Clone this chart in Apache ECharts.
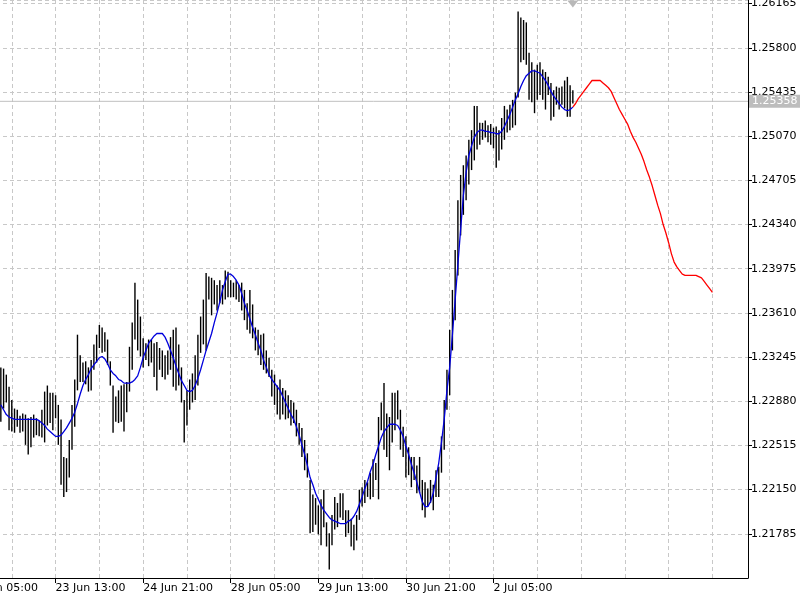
<!DOCTYPE html>
<html>
<head>
<meta charset="utf-8">
<script src="https://cdn.jsdelivr.net/npm/echarts@6/dist/echarts.min.js"></script>
<style>html,body{margin:0;padding:0;background:#fff}#c{width:800px;height:600px}</style>
</head>
<body>
<div id="c"></div>
<script>
// time-axis labels, one every 32 hourly slots (slot 0 = 22 Jun 05:00)
const tickLabels = ['22 Jun 05:00','23 Jun 13:00','24 Jun 21:00','28 Jun 05:00','29 Jun 13:00','30 Jun 21:00','2 Jul 05:00'];
const totalSlots = 286;
const barStart = 12;
const highs = [
1.2316,1.2315,1.2310,1.2300,1.2289,1.2282,1.2281,1.2276,1.2278,1.2277,
1.2274,1.2275,1.2277,1.2274,1.2272,1.2281,1.2296,1.2301,1.2295,1.2295,
1.2293,1.2285,1.2273,1.2242,1.2241,1.2256,1.2285,1.2306,1.2343,1.2326,
1.2320,1.2321,1.2316,1.2322,1.2335,1.2343,1.2351,1.2349,1.2345,1.2339,
1.2321,1.2301,1.2292,1.2297,1.2301,1.2302,1.2304,1.2333,1.2353,1.2386,
1.2372,1.2358,1.2340,1.2336,1.2339,1.2339,1.2336,1.2337,1.2332,1.2330,
1.2326,1.2330,1.2341,1.2347,1.2349,1.2335,1.2316,1.2289,1.2297,1.2306,
1.2311,1.2326,1.2343,1.2358,1.2372,1.2394,1.2391,1.2390,1.2388,1.2384,
1.2388,1.2384,1.2396,1.2395,1.2388,1.2386,1.2388,1.2384,1.2386,1.2380,
1.2369,1.2380,1.2368,1.2349,1.2347,1.2343,1.2344,1.2330,1.2324,1.2314,
1.2310,1.2301,1.2306,1.2299,1.2297,1.2293,1.2289,1.2287,1.2281,1.2270,
1.2266,1.2256,1.2245,1.2223,1.2211,1.2208,1.2202,1.2207,1.2215,1.2188,
1.2179,1.2194,1.2209,1.2204,1.2212,1.2212,1.2198,1.2198,1.2191,1.2186,
1.2194,1.2215,1.2217,1.2223,1.2221,1.2229,1.2240,1.2237,1.2275,1.2287,
1.2303,1.2278,1.2275,1.2295,1.2295,1.2297,1.2281,1.2267,1.2259,1.2250,
1.2242,1.2242,1.2235,1.2242,1.2223,1.2221,1.2216,1.2223,1.2219,1.2231,
1.2234,1.2259,1.2289,1.2314,1.2347,1.2380,1.2413,1.2454,1.2475,1.2483,
1.2491,1.2504,1.2512,1.2532,1.2532,1.2518,1.2518,1.2520,1.2516,1.2517,
1.2514,1.2515,1.2512,1.2522,1.2532,1.2529,1.2533,1.2537,1.2543,1.2610,
1.2605,1.2603,1.2601,1.2576,1.2568,1.2562,1.2566,1.2568,1.2562,1.2560,
1.2556,1.2551,1.2545,1.2548,1.2547,1.2548,1.2553,1.2556,1.2549,1.2545
];
const lows = [
1.2271,1.2282,1.2287,1.2264,1.2263,1.2262,1.2267,1.2262,1.2263,1.2252,
1.2244,1.2250,1.2258,1.2260,1.2259,1.2258,1.2254,1.2268,1.2270,1.2264,
1.2274,1.2252,1.2219,1.2209,1.2213,1.2225,1.2248,1.2267,1.2297,1.2304,
1.2304,1.2302,1.2296,1.2297,1.2314,1.2320,1.2332,1.2328,1.2329,1.2318,
1.2301,1.2262,1.2271,1.2270,1.2271,1.2263,1.2279,1.2296,1.2314,1.2339,
1.2330,1.2325,1.2316,1.2322,1.2317,1.2320,1.2308,1.2297,1.2314,1.2308,
1.2306,1.2310,1.2314,1.2300,1.2297,1.2301,1.2287,1.2254,1.2268,1.2281,
1.2287,1.2289,1.2301,1.2328,1.2335,1.2330,1.2372,1.2359,1.2368,1.2363,
1.2369,1.2368,1.2372,1.2374,1.2374,1.2374,1.2372,1.2370,1.2363,1.2355,
1.2347,1.2344,1.2340,1.2330,1.2326,1.2318,1.2314,1.2311,1.2308,1.2292,
1.2285,1.2277,1.2273,1.2277,1.2273,1.2274,1.2268,1.2270,1.2259,1.2252,
1.2242,1.2231,1.2225,1.2179,1.2180,1.2186,1.2178,1.2169,1.2184,1.2168,
1.2149,1.2169,1.2182,1.2184,1.2192,1.2190,1.2176,1.2179,1.2168,1.2165,
1.2173,1.2190,1.2201,1.2204,1.2209,1.2207,1.2209,1.2223,1.2207,1.2264,
1.2248,1.2242,1.2231,1.2254,1.2264,1.2273,1.2248,1.2242,1.2225,1.2227,
1.2217,1.2223,1.2212,1.2212,1.2198,1.2192,1.2201,1.2204,1.2198,1.2209,
1.2209,1.2229,1.2248,1.2281,1.2293,1.2330,1.2355,1.2392,1.2425,1.2442,
1.2454,1.2467,1.2479,1.2487,1.2496,1.2500,1.2504,1.2506,1.2502,1.2500,
1.2497,1.2481,1.2487,1.2496,1.2504,1.2510,1.2512,1.2514,1.2516,1.2539,
1.2568,1.2570,1.2566,1.2537,1.2535,1.2526,1.2537,1.2541,1.2537,1.2529,
1.2541,1.2520,1.2523,1.2533,1.2529,1.2533,1.2530,1.2523,1.2523,1.2534
];
const maLine = [
1.2285,1.2281,1.2277,1.2275,1.2274,1.2273,1.2273,1.2273,1.2273,1.2273,
1.2273,1.2273,1.2273,1.2273,1.2272,1.2270,1.2268,1.2265,1.2263,1.2261,
1.2259,1.2259,1.2260,1.2263,1.2266,1.2270,1.2274,1.2279,1.2286,1.2294,
1.2301,1.2306,1.2310,1.2315,1.2318,1.2321,1.2324,1.2325,1.2323,1.2319,
1.2314,1.2311,1.2309,1.2306,1.2305,1.2303,1.2303,1.2303,1.2304,1.2306,
1.2309,1.2316,1.2324,1.2330,1.2336,1.2339,1.2342,1.2344,1.2344,1.2344,
1.2341,1.2336,1.2330,1.2324,1.2317,1.2311,1.2305,1.2301,1.2297,1.2296,
1.2297,1.2301,1.2307,1.2314,1.2322,1.2330,1.2337,1.2344,1.2353,1.2361,
1.2370,1.2380,1.2387,1.2393,1.2393,1.2391,1.2388,1.2384,1.2377,1.2369,
1.2363,1.2356,1.2349,1.2343,1.2336,1.2330,1.2322,1.2316,1.2310,1.2306,
1.2303,1.2300,1.2297,1.2292,1.2287,1.2282,1.2277,1.2273,1.2267,1.2260,
1.2252,1.2244,1.2235,1.2225,1.2219,1.2212,1.2207,1.2202,1.2198,1.2195,
1.2192,1.2190,1.2189,1.2188,1.2187,1.2187,1.2187,1.2189,1.2190,1.2193,
1.2197,1.2203,1.2209,1.2216,1.2222,1.2230,1.2236,1.2244,1.2251,1.2258,
1.2263,1.2266,1.2269,1.2269,1.2269,1.2268,1.2264,1.2259,1.2251,1.2244,
1.2236,1.2229,1.2221,1.2213,1.2205,1.2201,1.2201,1.2205,1.2212,1.2225,
1.2237,1.2254,1.2273,1.2297,1.2316,1.2343,1.2372,1.2401,1.2430,1.2458,
1.2477,1.2491,1.2499,1.2506,1.2510,1.2512,1.2512,1.2511,1.2511,1.2510,
1.2510,1.2509,1.2509,1.2511,1.2515,1.2520,1.2525,1.2531,1.2537,1.2542,
1.2548,1.2553,1.2557,1.2559,1.2561,1.2561,1.2560,1.2559,1.2556,1.2553,
1.2549,1.2544,1.2540,1.2537,1.2534,1.2531,1.2529,1.2528,1.2529,1.2531
];
const forecast = [
1.2531,1.2534,1.2538,1.2541,1.2544,1.2547,1.2550,1.2553,1.2553,1.2553,
1.2553,1.2551,1.2549,1.2547,1.2544,1.2539,1.2534,1.2529,1.2525,1.2521,
1.2517,1.2511,1.2506,1.2502,1.2497,1.2492,1.2486,1.2479,1.2473,1.2466,
1.2458,1.2450,1.2443,1.2434,1.2427,1.2419,1.2410,1.2403,1.2399,1.2396,
1.2393,1.2392,1.2392,1.2392,1.2392,1.2392,1.2391,1.2390,1.2387,1.2384,
1.2381,1.2378
];
const lastPrice = 1.25358;
const yMin = 1.21420, yMax = 1.26195, yStep = 0.00365;

const slots = [];
for (let i = 0; i < totalSlots; i++) slots.push(String(i));
const barData = highs.map((h, k) => [barStart + k, h, lows[k]]);
const maData = maLine.map((v, k) => [barStart + k, v]);
const fcStart = barStart + highs.length - 1;
const fcData = forecast.map((v, k) => [fcStart + k, v]);
const priceLineData = [[0, lastPrice], [totalSlots - 1, lastPrice]];
const isLabelSlot = (idx) => idx % 32 === 0 && idx / 32 < tickLabels.length;

const chart = echarts.init(document.getElementById('c'), null, {renderer: 'canvas'});
const font = 'DejaVu Sans';
chart.setOption({
  animation: false,
  backgroundColor: '#ffffff',
  grid: {left: -32, right: 52, top: 0, bottom: 22, containLabel: false, outerBoundsMode: 'none'},
  xAxis: {
    type: 'category', data: slots, boundaryGap: false,
    axisLine: {show: true, lineStyle: {color: '#000', width: 1}},
    axisTick: {show: true, length: 5, interval: (idx) => isLabelSlot(idx), lineStyle: {color: '#000'}},
    axisLabel: {
      interval: (idx) => isLabelSlot(idx), align: 'left', margin: 5,
      color: '#000', fontFamily: font, fontSize: 11,
      formatter: (v, idx) => isLabelSlot(idx) ? tickLabels[idx / 32] : ''
    },
    splitLine: {show: true, interval: (idx) => idx % 16 === 0, lineStyle: {color: '#c8c8c8', type: [4, 3], width: 1}}
  },
  yAxis: {
    type: 'value', position: 'right', min: yMin, max: yMax, interval: yStep, scale: true,
    axisLine: {show: true, lineStyle: {color: '#000', width: 1}},
    axisTick: {show: true, length: 4, lineStyle: {color: '#000'}},
    axisLabel: {color: '#000', fontFamily: font, fontSize: 11, margin: 3, showMinLabel: false, showMaxLabel: false,
      formatter: (v) => v.toFixed(5)},
    splitLine: {show: true, lineStyle: {color: '#c8c8c8', type: [4, 3], width: 1}}
  },
  series: [
    {
      type: 'line', name: 'price', data: priceLineData, symbol: 'none', silent: true,
      lineStyle: {color: '#c0c0c0', width: 1}, z: 1,
      endLabel: {show: true, position: 'right', distance: 1, formatter: () => lastPrice.toFixed(5),
        backgroundColor: '#bdbdbd', color: '#fff', fontFamily: font, fontSize: 11, padding: [1, 3, 1, 3]}
    },
    {
      type: 'custom', name: 'bars', clip: true,
      data: barData,
      encode: {x: 0, y: [1, 2]},
      renderItem: (params, api) => {
        const i = api.value(0);
        const hi = api.coord([i, api.value(1)]);
        const lo = api.coord([i, api.value(2)]);
        return {type: 'line', shape: {x1: hi[0], y1: hi[1], x2: lo[0], y2: lo[1]},
          style: {stroke: '#000', lineWidth: 1.4}};
      },
      z: 2
    },
    {
      type: 'line', name: 'ma', data: maData, symbol: 'none', smooth: false,
      lineStyle: {color: '#0000dd', width: 1.3}, z: 3,
      markPoint: {
        silent: true, symbol: 'triangle', symbolRotate: 180, symbolSize: [11, 7], symbolOffset: [0, 4],
        itemStyle: {color: '#b8b8b8'}, label: {show: false},
        data: [{coord: [String(fcStart), yMax]}]
      }
    },
    {
      type: 'line', name: 'forecast', data: fcData, symbol: 'none', smooth: false,
      lineStyle: {color: '#ff0000', width: 1.3}, z: 3
    }
  ]
});
</script>
</body>
</html>
